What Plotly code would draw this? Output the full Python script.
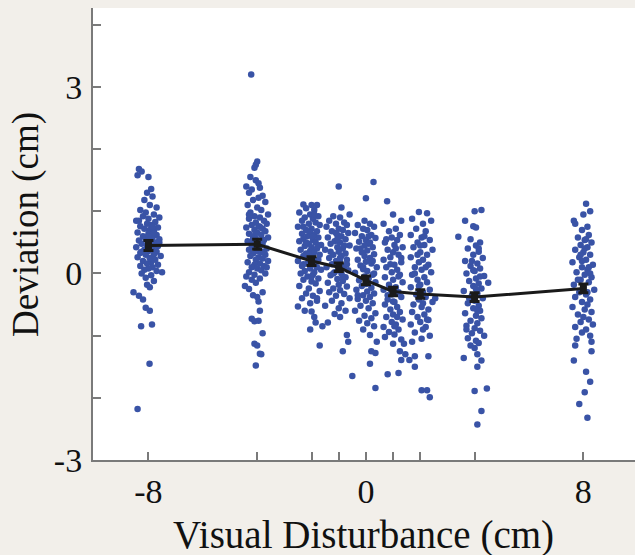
import plotly.graph_objects as go

# Conditions (visual disturbance, cm)
CONDITIONS = [-8, -4, -2, -1, 0, 1, 2, 4, 8]

# Mean deviation and its standard error for each condition (cm)
MEANS = [0.45, 0.47, 0.20, 0.10, -0.11, -0.29, -0.33, -0.38, -0.24]
SEMS = [0.08, 0.08, 0.07, 0.07, 0.07, 0.07, 0.07, 0.07, 0.07]

# Individual trials: (horizontal jitter in cm, deviation in cm)
PTS_M8 = [(-0.35,1.68),(-0.25,1.64),(-0.40,1.58),(0.00,1.55),(0.10,1.36),(-0.05,1.30),(0.15,1.24),(-0.15,1.18),(0.05,1.10),(0.30,1.06),
(-0.30,1.02),(-0.10,0.98),(0.20,0.95),(-0.20,0.92),(0.40,0.90),(0.00,0.88),(-0.45,0.85),(0.25,0.83),(-0.05,0.80),(0.10,0.78),
(-0.30,0.76),(0.35,0.74),(-0.15,0.72),(0.05,0.70),(0.20,0.68),(-0.40,0.66),(0.00,0.64),(0.30,0.62),(-0.20,0.60),(0.15,0.58),
(-0.10,0.57),(0.40,0.55),(-0.35,0.53),(0.05,0.52),(0.25,0.50),(-0.25,0.48),(0.10,0.47),(-0.05,0.45),(0.35,0.44),(-0.45,0.42),
(0.15,0.40),(-0.15,0.38),(0.00,0.36),(0.30,0.35),(-0.30,0.33),(0.20,0.31),(-0.10,0.30),(0.45,0.28),(-0.40,0.26),(0.05,0.25),
(0.25,0.22),(-0.20,0.20),(0.10,0.18),(-0.05,0.16),(0.35,0.14),(-0.30,0.12),(0.15,0.10),(0.00,0.08),(-0.15,0.06),(0.30,0.04),
(0.50,0.02),(-0.25,0.00),(0.10,-0.03),(-0.10,-0.07),(0.20,-0.12),(-0.05,-0.18),(0.05,-0.22),(-0.55,-0.30),(-0.35,-0.36),(-0.20,-0.42),
(-0.10,-0.55),(0.05,-0.60),(-0.27,-0.85),(0.13,-0.82),(0.04,-1.45),(-0.40,-2.18),
(0.20,0.65),(-0.10,0.55),(0.30,0.45),(-0.25,0.35),(0.05,0.25),(0.15,0.75),(-0.35,0.85),(0.40,0.50),(0.00,0.60),(-0.05,0.40)]

PTS_M4 = [(-0.22,3.20),(0.00,1.80),(-0.05,1.75),(-0.10,1.70),(-0.25,1.55),(-0.05,1.50),(-0.40,1.40),(0.10,1.38),(-0.20,1.35),(-0.30,1.30),
(0.20,1.25),(0.05,1.22),(-0.15,1.18),(0.30,1.15),(-0.35,1.10),(0.00,1.06),(0.15,1.02),(-0.25,0.98),(0.40,0.95),(-0.10,0.92),
(0.10,0.90),(-0.30,0.88),(0.25,0.85),(-0.05,0.82),(0.35,0.80),(-0.20,0.78),(0.05,0.76),(-0.40,0.74),(0.20,0.72),(-0.10,0.70),
(0.30,0.68),(0.00,0.66),(-0.30,0.64),(0.15,0.62),(-0.15,0.60),(0.40,0.58),(-0.05,0.56),(0.25,0.54),(-0.35,0.52),(0.05,0.50),
(0.20,0.48),(-0.20,0.46),(0.10,0.44),(-0.10,0.42),(0.35,0.40),(-0.30,0.38),(0.00,0.36),(0.15,0.34),(-0.15,0.32),(0.30,0.30),
(-0.25,0.28),(0.05,0.26),(0.20,0.24),(-0.05,0.22),(0.40,0.20),(-0.35,0.18),(0.10,0.16),(-0.10,0.14),(0.25,0.12),(-0.20,0.10),
(0.00,0.08),(0.15,0.05),(-0.30,0.02),(0.30,0.00),(-0.10,-0.02),(-0.40,-0.05),(0.10,-0.08),(-0.20,-0.10),(-0.05,-0.15),(-0.45,-0.20),
(-0.30,-0.25),(0.20,-0.30),(-0.15,-0.35),(0.00,-0.38),(0.05,-0.45),(0.10,-0.60),(-0.20,-0.73),(-0.10,-0.77),(0.05,-0.76),(0.20,-0.96),
(-0.10,-1.13),(0.00,-1.16),(0.15,-1.30),(0.10,-1.29),(-0.05,-1.48),
(0.05,1.45),(-0.30,0.95),(0.10,0.75),(-0.15,0.55),(0.25,0.35),(-0.05,0.65),(0.35,0.10)]

PTS_M2 = [(-0.30,1.11),(0.00,1.10),(0.20,1.10),(-0.20,1.05),(0.10,1.02),(-0.45,0.98),(-0.05,0.95),(0.25,0.92),(-0.25,0.90),(0.05,0.88),
(-0.35,0.85),(0.15,0.82),(-0.10,0.80),(0.30,0.78),(-0.50,0.75),(0.00,0.72),(-0.20,0.70),(0.20,0.68),(-0.05,0.66),(-0.35,0.64),
(0.10,0.62),(-0.15,0.60),(0.25,0.58),(-0.30,0.56),(0.05,0.54),(-0.45,0.52),(0.15,0.50),(-0.10,0.48),(0.35,0.46),(-0.25,0.44),
(0.00,0.42),(0.20,0.40),(-0.40,0.38),(-0.05,0.36),(0.10,0.34),(-0.20,0.32),(0.30,0.30),(-0.30,0.28),(0.05,0.26),(-0.10,0.24),
(0.25,0.22),(-0.50,0.20),(0.15,0.18),(-0.15,0.16),(0.00,0.14),(-0.35,0.12),(0.20,0.10),(-0.05,0.08),(0.35,0.06),(-0.25,0.04),
(0.10,0.02),(-0.40,0.00),(0.05,-0.02),(-0.15,-0.05),(0.25,-0.08),(-0.30,-0.10),(0.00,-0.13),(0.15,-0.16),(-0.45,-0.20),(-0.10,-0.24),
(0.30,-0.28),(-0.20,-0.32),(0.05,-0.36),(-0.35,-0.40),(0.20,-0.44),(-0.05,-0.48),(-0.50,-0.53),(0.00,-0.61),(0.10,-0.70),(0.15,-0.79),
(-0.05,-0.90),(0.40,-0.85),(0.30,-1.16),(-0.25,-0.60),
(0.10,0.95),(-0.30,0.75),(0.05,0.60),(-0.20,0.50),(0.25,0.45),(-0.10,0.30),(0.15,0.20),(-0.30,0.15),(0.00,-0.05),(0.20,-0.40)]

PTS_M1 = [(0.00,1.40),(0.10,1.06),(0.40,0.95),(-0.20,0.92),(0.05,0.90),(-0.35,0.85),(0.20,0.82),(-0.10,0.80),(0.30,0.78),(-0.45,0.75),
(0.00,0.72),(0.15,0.70),(-0.25,0.68),(0.35,0.65),(-0.05,0.62),(0.10,0.60),(-0.40,0.58),(0.25,0.55),(-0.15,0.52),(0.05,0.50),
(-0.30,0.48),(0.40,0.45),(-0.05,0.42),(0.15,0.40),(-0.50,0.38),(0.00,0.35),(0.25,0.32),(-0.20,0.30),(0.10,0.28),(-0.35,0.25),
(0.30,0.22),(-0.10,0.20),(0.05,0.18),(-0.25,0.15),(0.20,0.12),(-0.45,0.10),(0.00,0.08),(0.35,0.05),(-0.15,0.02),(0.10,0.00),
(-0.30,-0.03),(0.25,-0.06),(-0.05,-0.09),(0.15,-0.12),(-0.40,-0.15),(0.00,-0.18),(0.30,-0.21),(-0.20,-0.24),(0.05,-0.27),(-0.35,-0.30),
(0.20,-0.33),(-0.10,-0.36),(0.40,-0.40),(-0.25,-0.44),(0.10,-0.48),(-0.50,-0.52),(0.00,-0.56),(0.25,-0.60),(-0.15,-0.65),(-0.40,-0.79),
(0.30,-0.99),(0.35,-1.10),(0.15,-1.25),(0.05,-0.70),
(-0.10,0.65),(0.20,0.45),(-0.30,0.35),(0.05,0.25),(-0.05,0.55),(0.15,-0.05),(-0.20,0.00),(0.30,0.15)]

PTS_0 = [(0.28,1.47),(0.00,1.21),(-0.05,0.85),(0.15,0.80),(-0.30,0.78),(0.30,0.75),(-0.10,0.72),(0.05,0.70),(-0.40,0.65),(0.20,0.62),
(-0.15,0.60),(0.35,0.57),(0.00,0.54),(-0.25,0.51),(0.10,0.48),(-0.05,0.45),(0.25,0.42),(-0.35,0.40),(0.05,0.37),(-0.15,0.34),
(0.30,0.31),(-0.05,0.28),(0.15,0.25),(-0.30,0.22),(0.00,0.19),(0.20,0.16),(-0.20,0.13),(0.40,0.10),(-0.10,0.07),(0.05,0.04),
(-0.40,0.01),(0.25,-0.02),(-0.05,-0.05),(0.10,-0.08),(-0.25,-0.11),(0.35,-0.14),(0.00,-0.17),(-0.15,-0.20),(0.20,-0.23),(-0.35,-0.26),
(0.05,-0.29),(0.30,-0.32),(-0.10,-0.35),(0.15,-0.38),(-0.30,-0.41),(0.00,-0.44),(0.25,-0.48),(-0.20,-0.52),(0.10,-0.56),(-0.40,-0.60),
(0.35,-0.64),(-0.05,-0.68),(0.20,-0.72),(-0.25,-0.76),(0.05,-0.80),(0.30,-0.85),(0.15,-0.99),(0.40,-1.10),(0.20,-1.25),(0.35,-1.28),
(0.15,-1.45),(0.35,-1.84),(-0.50,-1.65),(-0.10,-0.90),
(0.10,0.60),(-0.20,0.40),(0.25,0.20),(-0.10,0.10),(0.05,-0.15),(0.15,0.50),(-0.30,-0.35),(0.30,0.00)]

PTS_1 = [(-0.22,1.16),(0.00,0.95),(0.30,0.85),(-0.35,0.80),(0.10,0.72),(-0.15,0.68),(0.25,0.62),(-0.05,0.58),(0.15,0.54),(-0.30,0.50),
(0.05,0.46),(0.35,0.42),(-0.20,0.38),(0.00,0.34),(0.20,0.30),(-0.10,0.26),(-0.35,0.22),(0.30,0.18),(0.05,0.14),(-0.25,0.10),
(0.15,0.06),(-0.05,0.02),(0.25,-0.02),(-0.30,-0.06),(0.00,-0.10),(0.35,-0.14),(-0.15,-0.18),(0.10,-0.22),(-0.35,-0.26),(0.20,-0.30),
(-0.05,-0.34),(0.30,-0.38),(-0.20,-0.42),(0.05,-0.46),(-0.30,-0.50),(0.15,-0.54),(-0.10,-0.58),(0.25,-0.62),(0.00,-0.66),(-0.25,-0.70),
(0.35,-0.74),(-0.05,-0.78),(0.10,-0.82),(-0.35,-0.86),(0.20,-0.90),(-0.15,-0.94),(0.05,-0.98),(-0.30,-1.02),(0.30,-1.06),(0.00,-1.13),
(0.25,-1.25),(0.30,-1.39),(0.20,-1.60),(-0.20,-1.62),(0.45,-1.30),(0.40,-1.13),
(0.10,0.40),(-0.10,0.15),(0.20,-0.05),(-0.20,-0.35),(0.00,-0.45),(0.15,-0.70),(-0.10,-0.25),(0.30,0.25),(-0.25,0.55),(0.05,-0.85)]

PTS_2 = [(-0.05,0.99),(0.25,0.97),(-0.30,0.88),(0.40,0.85),(0.10,0.80),(-0.15,0.72),(0.20,0.68),(-0.35,0.62),(0.05,0.58),(0.35,0.54),
(-0.10,0.50),(0.15,0.46),(-0.25,0.42),(0.45,0.38),(0.00,0.34),(0.25,0.30),(-0.35,0.26),(0.10,0.22),(-0.05,0.18),(0.30,0.14),
(-0.20,0.10),(0.05,0.06),(0.40,0.02),(-0.30,-0.02),(0.15,-0.06),(-0.10,-0.10),(0.25,-0.14),(0.00,-0.18),(-0.35,-0.22),(0.35,-0.26),
(0.10,-0.30),(-0.15,-0.34),(0.20,-0.38),(-0.05,-0.42),(0.45,-0.46),(-0.25,-0.50),(0.05,-0.54),(0.30,-0.58),(-0.30,-0.62),(0.15,-0.66),
(-0.10,-0.70),(0.25,-0.74),(0.00,-0.78),(-0.35,-0.82),(0.20,-0.86),(0.10,-0.90),(-0.20,-0.95),(0.35,-1.00),(0.05,-1.05),(-0.30,-1.10),
(-0.20,-1.33),(-0.40,-1.39),(-0.20,-1.50),(0.30,-1.33),(0.05,-1.88),(0.25,-1.88),(0.35,-1.99),(0.55,-0.40),
(0.15,0.60),(-0.10,0.30),(0.20,0.10),(-0.05,-0.20),(0.10,-0.48),(-0.20,0.00),(0.30,-0.75),(0.00,0.45)]

PTS_4 = [(0.25,1.02),(0.00,1.00),(-0.35,0.85),(-0.05,0.76),(0.05,0.74),(-0.60,0.59),(-0.15,0.55),(0.20,0.50),(0.05,0.45),(-0.25,0.40),
(0.15,0.35),(-0.05,0.30),(0.30,0.25),(-0.35,0.20),(0.10,0.16),(-0.15,0.12),(0.20,0.08),(0.00,0.04),(-0.30,0.00),(0.35,-0.04),
(0.05,-0.08),(-0.20,-0.12),(0.15,-0.16),(-0.05,-0.20),(0.25,-0.24),(-0.40,-0.28),(0.10,-0.32),(-0.10,-0.36),(0.30,-0.40),(0.00,-0.44),
(-0.25,-0.48),(0.15,-0.52),(-0.05,-0.56),(0.20,-0.60),(-0.35,-0.64),(0.05,-0.68),(0.25,-0.72),(-0.15,-0.76),(0.10,-0.80),(-0.30,-0.84),
(0.00,-0.88),(0.20,-0.92),(-0.10,-0.96),(0.35,-1.00),(-0.25,-1.04),(0.05,-1.08),(0.15,-1.12),(-0.15,-1.16),(0.00,-1.20),(0.10,-1.30),
(0.25,-1.40),(0.10,-1.50),(-0.40,-1.36),(0.00,-1.89),(0.45,-1.85),(0.25,-2.21),(0.10,-2.43),(0.50,-0.15),
(-0.10,0.20),(0.20,-0.05),(-0.20,-0.40),(0.10,-0.60),(-0.05,0.05),(0.15,0.40),(-0.30,-0.90),(0.05,-0.25)]

PTS_8 = [(0.10,1.12),(0.25,1.00),(0.00,0.95),(-0.35,0.85),(-0.30,0.80),(0.15,0.75),(-0.05,0.70),(0.20,0.62),(-0.20,0.58),(0.05,0.54),
(0.30,0.50),(-0.10,0.46),(0.15,0.42),(-0.30,0.38),(0.00,0.34),(0.25,0.30),(-0.15,0.26),(0.10,0.22),(-0.40,0.18),(0.35,0.14),
(-0.05,0.10),(0.15,0.06),(-0.25,0.02),(0.05,-0.02),(0.30,-0.06),(-0.10,-0.10),(0.20,-0.14),(-0.35,-0.18),(0.00,-0.22),(0.40,-0.26),
(-0.15,-0.30),(0.10,-0.34),(-0.30,-0.38),(0.25,-0.42),(-0.05,-0.46),(0.15,-0.50),(-0.40,-0.54),(0.05,-0.58),(0.30,-0.62),(-0.20,-0.66),
(0.00,-0.70),(0.20,-0.74),(-0.10,-0.78),(0.35,-0.82),(-0.30,-0.86),(0.10,-0.90),(-0.05,-0.95),(0.25,-1.00),(-0.25,-1.05),(0.30,-1.10),
(-0.30,-1.16),(0.30,-1.25),(-0.35,-1.40),(0.10,-1.58),(0.25,-1.74),(0.05,-1.91),(-0.15,-2.10),(0.15,-2.32),
(0.10,0.55),(-0.10,0.30),(0.20,0.10),(-0.20,-0.10),(0.05,0.40),(0.15,-0.30),(-0.05,0.20),(0.25,0.00)]

TRIALS = [PTS_M8, PTS_M4, PTS_M2, PTS_M1, PTS_0, PTS_1, PTS_2, PTS_4, PTS_8]

X_TICKS = [-8, -4, -2, -1, 0, 1, 2, 4, 8]
X_TICK_TEXT = ["-8", "", "", "", "0", "", "", "", "8"]
Y_TICKS = [-3, -2, -1, 0, 1, 2, 3, 4]
Y_TICK_TEXT = ["-3", "", "", "0", "", "", "3", ""]
X_TITLE = "Visual Disturbance (cm)"
Y_TITLE = "Deviation (cm)"

FONT = "Liberation Serif, DejaVu Serif, serif"
DOT_COLOR = "#3953a6"
AXIS_COLOR = "#7a7a7a"
TEXT_COLOR = "#111111"
PAGE_BG = "#f2efea"

xs, ys = [], []
for cond, pts in zip(CONDITIONS, TRIALS):
    for dx, dy in pts:
        xs.append(cond + dx)
        ys.append(dy)

fig = go.Figure()
fig.add_trace(go.Scatter(
    x=xs, y=ys, mode="markers",
    marker=dict(color=DOT_COLOR, size=6.5, line=dict(width=0)),
    showlegend=False, hoverinfo="skip",
))
fig.add_trace(go.Scatter(
    x=CONDITIONS, y=MEANS, mode="lines+markers",
    line=dict(color="#1a1a1a", width=3),
    marker=dict(color="#1a1a1a", size=7, symbol="square"),
    error_y=dict(type="data", array=SEMS, color="#1a1a1a", thickness=3, width=5),
    showlegend=False,
))

fig.add_annotation(
    text=X_TITLE, xref="x", yref="paper", x=-0.1, y=0,
    xanchor="center", yanchor="middle", yshift=-75, showarrow=False,
    font=dict(family=FONT, size=39, color=TEXT_COLOR),
)
fig.add_annotation(
    text=Y_TITLE, xref="paper", yref="y", x=0, y=0.78,
    xanchor="center", yanchor="middle", xshift=-67, textangle=-90, showarrow=False,
    font=dict(family=FONT, size=37, color=TEXT_COLOR),
)

fig.update_layout(
    width=635, height=555,
    margin=dict(l=93, r=0, t=8, b=95),
    paper_bgcolor=PAGE_BG,
    plot_bgcolor="#ffffff",
    font=dict(family=FONT, size=34, color=TEXT_COLOR),
    xaxis=dict(
        range=[-10.04, 9.9], showgrid=False, zeroline=False, automargin=False,
        showline=True, linecolor=AXIS_COLOR, linewidth=2,
        ticks="inside", ticklen=8, tickwidth=1.5, tickcolor=AXIS_COLOR,
        tickvals=X_TICKS, ticktext=X_TICK_TEXT,
        tickfont=dict(family=FONT, size=34, color=TEXT_COLOR),
        ticklabelstandoff=0,
    ),
    yaxis=dict(
        range=[-3, 4.27], showgrid=False, zeroline=False, automargin=False,
        showline=True, linecolor=AXIS_COLOR, linewidth=2,
        ticks="inside", ticklen=8, tickwidth=1.5, tickcolor=AXIS_COLOR,
        tickvals=Y_TICKS, ticktext=Y_TICK_TEXT,
        tickfont=dict(family=FONT, size=34, color=TEXT_COLOR),
        ticklabelstandoff=2,
    ),
)

fig.write_html(
    "out.html",
    config={"displayModeBar": False},
    post_script=f"document.body.style.margin='0';document.body.style.background='{PAGE_BG}';",
)
